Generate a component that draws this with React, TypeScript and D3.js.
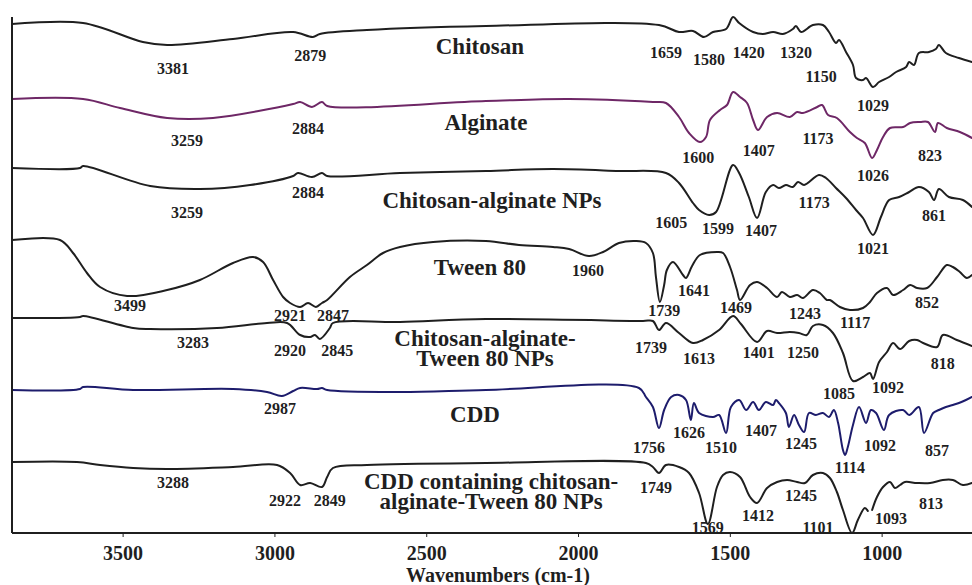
import React from 'react';
import * as d3 from 'd3';

const WIDTH = 972;
const HEIGHT = 585;

// Spectra: [wavenumber (cm-1), transmittance relative to the trace's stack offset (a.u.)]
const chitosan: [number, number][] = [
  [3866, 0], [3632, 1], [3435, -18], [3355, -21], [3138, -15], [2940, -8], [2875, -13], [2852, -10],
  [2697, -6], [2305, -2], [1735, -1], [1669, -8], [1623, -7], [1587, -13], [1557, -8], [1514, -5],
  [1491, 7], [1471, 1], [1425, -8], [1393, -10], [1359, -8], [1327, -10], [1294, -5], [1284, -2],
  [1267, -8], [1228, -1], [1195, -1], [1175, -8], [1152, -19], [1142, -16], [1119, -28], [1096, -41],
  [1086, -54], [1063, -56], [1053, -54], [1030, -63], [1010, -58], [977, -53], [954, -48], [921, -43],
  [911, -38], [895, -41], [879, -29], [846, -28], [823, -25], [813, -21], [790, -29], [747, -34], [704, -38],
];

const alginate: [number, number][] = [
  [3866, 0], [3632, 0], [3510, -9], [3355, -19], [3204, -19], [2940, -5], [2917, -3], [2878, -8],
  [2845, -3], [2828, -7], [2305, -2], [2031, 0], [1755, -3], [1712, -4], [1669, -18], [1636, -34],
  [1600, -43], [1580, -38], [1567, -21], [1534, -11], [1511, -6], [1491, 7], [1468, 2], [1445, -4],
  [1425, -21], [1409, -31], [1379, -18], [1346, -14], [1304, -18], [1280, -13], [1261, -14], [1214, -8],
  [1198, -6], [1178, -16], [1149, -19], [1106, -33], [1083, -39], [1057, -44], [1033, -59], [1017, -51],
  [997, -38], [974, -29], [931, -28], [908, -24], [875, -23], [849, -23], [826, -33], [816, -24],
  [787, -29], [744, -33], [704, -39],
];

const chitosanAlginateNPs: [number, number][] = [
  [3866, 0], [3642, 0], [3632, 2], [3411, -18], [3247, -21], [3082, -17], [2940, -8], [2924, -5],
  [2878, -9], [2845, -5], [2828, -8], [2588, -5], [2305, -3], [2084, -1], [1867, -3], [1712, -5],
  [1669, -15], [1623, -35], [1603, -42], [1570, -47], [1547, -44], [1491, 3], [1471, -5], [1439, -29],
  [1412, -50], [1383, -24], [1359, -17], [1340, -20], [1317, -17], [1294, -19], [1277, -14], [1257, -17],
  [1208, -7], [1185, -10], [1152, -20], [1119, -30], [1086, -42], [1063, -50], [1030, -67], [1004, -49],
  [977, -32], [944, -29], [911, -24], [879, -19], [846, -24], [829, -32], [813, -21], [780, -29],
  [734, -32], [704, -39],
];

const tween80: [number, number][] = [
  [3866, 0], [3708, 0], [3665, -13], [3619, -33], [3576, -47], [3487, -56], [3355, -50], [3247, -40],
  [3138, -23], [3072, -17], [3039, -22], [3006, -40], [2973, -57], [2950, -63], [2917, -67], [2891, -63],
  [2865, -67], [2845, -63], [2828, -60], [2753, -37], [2697, -25], [2644, -13], [2588, -7], [2479, -2],
  [2305, -1], [2196, -5], [2084, -7], [2031, -9], [1966, -16], [1919, -12], [1867, -3], [1811, -1],
  [1778, -3], [1755, -13], [1745, -37], [1732, -62], [1718, -45], [1709, -30], [1689, -22], [1656, -35],
  [1646, -38], [1626, -26], [1600, -15], [1544, -12], [1524, -13], [1501, -27], [1478, -50], [1468, -60],
  [1435, -45], [1412, -42], [1379, -48], [1346, -57], [1330, -52], [1304, -57], [1280, -55], [1261, -58],
  [1228, -50], [1205, -53], [1182, -60], [1172, -60], [1139, -67], [1106, -70], [1063, -68], [1040, -62],
  [1017, -53], [984, -48], [964, -55], [931, -50], [908, -45], [885, -48], [852, -48], [819, -37],
  [787, -25], [767, -27], [744, -32], [721, -38], [704, -35],
];

const chitosanAlginateTweenNPs: [number, number][] = [
  [3866, 0], [3642, 1], [3632, 2], [3467, -10], [3411, -11], [3191, -10], [3026, -5], [2960, -5],
  [2917, -17], [2884, -19], [2868, -17], [2852, -21], [2819, -10], [2809, -5], [2588, -4], [2305, -1],
  [1788, -3], [1755, -3], [1735, -12], [1712, -5], [1669, -15], [1623, -25], [1590, -22], [1537, -12],
  [1491, 2], [1465, -6], [1412, -24], [1379, -13], [1346, -15], [1304, -14], [1274, -15], [1248, -17],
  [1228, -8], [1195, -7], [1162, -15], [1129, -35], [1096, -63], [1063, -59], [1040, -55], [1030, -61],
  [1010, -44], [984, -34], [964, -25], [941, -31], [911, -23], [885, -22], [865, -25], [819, -29],
  [800, -17], [754, -22], [704, -28],
];

const cdd: [number, number][] = [
  [3866, 0], [3642, 1], [3632, 3], [3467, 0], [3138, 1], [3026, -2], [2977, -6], [2940, -1],
  [2917, 2], [2861, 1], [2845, 2], [2828, 0], [2588, -2], [2305, 0], [1801, 2], [1778, -7],
  [1755, -17], [1735, -38], [1718, -20], [1695, -7], [1669, -5], [1646, -10], [1630, -30], [1620, -13],
  [1603, -23], [1557, -27], [1537, -25], [1514, -43], [1498, -17], [1471, -10], [1448, -20], [1425, -12],
  [1406, -20], [1383, -12], [1359, -15], [1350, -10], [1340, -13], [1317, -23], [1307, -37], [1290, -25],
  [1274, -35], [1257, -42], [1241, -23], [1218, -25], [1195, -23], [1175, -27], [1159, -20], [1145, -33],
  [1139, -43], [1129, -60], [1122, -65], [1113, -57], [1096, -35], [1076, -17], [1053, -33], [1037, -20],
  [1020, -23], [994, -40], [977, -25], [931, -20], [911, -25], [879, -17], [862, -43], [832, -23],
  [813, -20], [790, -17], [767, -15], [747, -13], [724, -10], [704, -7],
];

// NaN marks the short break in the trace near 1093 cm-1
const cddNPs: [number, number][] = [
  [3866, 0], [3652, 0], [3576, -3], [3467, -6], [3355, -7], [3138, -5], [2993, -3], [2950, -11],
  [2917, -23], [2884, -21], [2845, -25], [2828, -15], [2809, -6], [2697, -3], [2305, -1], [1778, -1],
  [1755, -5], [1735, -11], [1712, -3], [1669, -5], [1636, -11], [1603, -31], [1574, -62], [1544, -25],
  [1524, -13], [1501, -10], [1468, -15], [1435, -35], [1412, -41], [1379, -26], [1346, -20], [1313, -18],
  [1280, -20], [1254, -21], [1228, -13], [1195, -11], [1172, -16], [1149, -30], [1129, -48], [1099, -71],
  [1080, -58], [1057, -46], [1047, -49], [1040, NaN], [1033, -48], [1017, -35], [997, -25], [974, -20],
  [958, -26], [941, -23], [925, -20], [885, -21], [842, -21], [800, -18], [767, -18], [734, -23], [704, -21],
];

// Stack offsets of the seven traces (a.u.)
const stackOffsets = [509, 434, 365, 293, 215, 143, 71];

// Sample names: lines of text, anchor [wavenumber, level a.u.]
const sampleNames: { lines: string[]; at: [number, number] }[] = [
  { lines: ['Chitosan'], at: [2325, 479] },
  { lines: ['Alginate'], at: [2305, 403] },
  { lines: ['Chitosan-alginate NPs'], at: [2285, 325] },
  { lines: ['Tween 80'], at: [2325, 258] },
  { lines: ['Chitosan-alginate-', 'Tween 80 NPs'], at: [2308, 187] },
  { lines: ['CDD'], at: [2341, 111] },
  { lines: ['CDD containing chitosan-', 'alginate-Tween 80 NPs'], at: [2288, 44] },
];

// Band assignments: [label, wavenumber position, level a.u.]
const chitosanBands: [string, number, number][] = [
  ['3381', 3336, 465], ['2879', 2884, 478], ['1659', 1712, 481], ['1580', 1570, 474],
  ['1420', 1439, 481], ['1320', 1284, 481], ['1150', 1201, 457], ['1029', 1030, 428],
];
const alginateBands: [string, number, number][] = [
  ['3259', 3290, 393], ['2884', 2891, 405], ['1600', 1606, 376], ['1407', 1406, 383],
  ['1173', 1211, 395], ['1026', 1030, 358], ['823', 842, 378],
];
const chitosanAlginateBands: [string, number, number][] = [
  ['3259', 3290, 321], ['2884', 2891, 341], ['1605', 1695, 311], ['1599', 1541, 305],
  ['1407', 1399, 303], ['1173', 1224, 331], ['1021', 1030, 285], ['861', 829, 318],
];
const tweenBands: [string, number, number][] = [
  ['3499', 3477, 228], ['2921', 2950, 218], ['2847', 2809, 218], ['1960', 1969, 263],
  ['1739', 1718, 223], ['1641', 1620, 243], ['1469', 1481, 226], ['1243', 1254, 220],
  ['1117', 1089, 211], ['852', 852, 231],
];
const chitosanAlginateTweenBands: [string, number, number][] = [
  ['3283', 3270, 191], ['2920', 2950, 183], ['2845', 2795, 183], ['1739', 1761, 186],
  ['1613', 1603, 175], ['1401', 1406, 181], ['1250', 1261, 181], ['1085', 1142, 140],
  ['1092', 981, 146], ['818', 800, 170],
];
const cddBands: [string, number, number][] = [
  ['2987', 2983, 125], ['1756', 1768, 86], ['1626', 1636, 101], ['1510', 1531, 86],
  ['1407', 1399, 103], ['1245', 1267, 90], ['1114', 1106, 66], ['1092', 1007, 88], ['857', 819, 83],
];
const cddNPsBands: [string, number, number][] = [
  ['3288', 3336, 51], ['2922', 2967, 33], ['2849', 2819, 33], ['1749', 1745, 46],
  ['1569', 1574, 6], ['1412', 1409, 18], ['1245', 1267, 38], ['1101', 1211, 6],
  ['1093', 971, 15], ['813', 839, 30],
];

const xTicks = [3500, 3000, 2500, 2000, 1500, 1000];

const INK = '#1f1f1f';
const ALGINATE = '#6e2766';
const CDD_BLUE = '#1d1c6c';

const traces = [
  { id: 'chitosan', points: chitosan, color: INK, bands: chitosanBands },
  { id: 'alginate', points: alginate, color: ALGINATE, bands: alginateBands },
  { id: 'ca-nps', points: chitosanAlginateNPs, color: INK, bands: chitosanAlginateBands },
  { id: 'tween80', points: tween80, color: INK, bands: tweenBands },
  { id: 'cat-nps', points: chitosanAlginateTweenNPs, color: INK, bands: chitosanAlginateTweenBands },
  { id: 'cdd', points: cdd, color: CDD_BLUE, bands: cddBands },
  { id: 'cdd-nps', points: cddNPs, color: INK, bands: cddNPsBands },
];

const FONT = '"Liberation Serif", "Times New Roman", Times, serif';

export default function App() {
  const left = 12;
  const right = 972;
  const bottom = 533;
  const top = 15;

  const x = d3.scaleLinear().domain([3866, 704]).range([left, right]);
  const y = d3.scaleLinear().domain([0, 518]).range([bottom, top]);

  return (
    <svg
      width={WIDTH}
      height={HEIGHT}
      viewBox={`0 0 ${WIDTH} ${HEIGHT}`}
      style={{ position: 'absolute', left: 0, top: 0, background: '#fff' }}
    >
      <defs>
        <clipPath id="plot-clip">
          <rect x={left} y={0} width={right - left} height={bottom + 2} />
        </clipPath>
      </defs>
      <rect width={WIDTH} height={HEIGHT} fill="#fff" />

      <g clipPath="url(#plot-clip)">
        {traces.map((t, i) => {
          const off = stackOffsets[i];
          const line = d3
            .line<[number, number]>()
            .defined((d) => !Number.isNaN(d[1]))
            .x((d) => x(d[0]))
            .y((d) => y(d[1] + off))
            .curve(d3.curveCatmullRom.alpha(0.5));
          return (
            <path
              key={t.id}
              d={line(t.points) ?? ''}
              fill="none"
              stroke={t.color}
              strokeWidth={2}
              strokeLinejoin="round"
              strokeLinecap="round"
            />
          );
        })}
      </g>

      {/* sample names */}
      <g fontFamily={FONT} fontWeight="bold" fontSize={23} fill={INK} textAnchor="middle">
        {sampleNames.map((s, i) => (
          <text key={i} x={x(s.at[0])} y={y(s.at[1])}>
            {s.lines.map((ln, j) => (
              <tspan key={j} x={x(s.at[0])} dy={j === 0 ? 0 : 20}>
                {ln}
              </tspan>
            ))}
          </text>
        ))}
      </g>

      {/* band labels */}
      <g fontFamily={FONT} fontWeight="bold" fontSize={16} fill={INK} textAnchor="middle">
        {traces.map((t) =>
          t.bands.map(([label, wn, lvl], k) => (
            <text key={`${t.id}-${k}`} x={x(wn)} y={y(lvl) + 5.5}>
              {label}
            </text>
          ))
        )}
      </g>

      {/* axes */}
      <line x1={left} x2={left} y1={17} y2={bottom} stroke={INK} strokeWidth={2} />
      <line x1={left} x2={right} y1={bottom} y2={bottom} stroke={INK} strokeWidth={2} />
      <g fontFamily={FONT} fontWeight="bold" fontSize={20} fill={INK} textAnchor="middle">
        {xTicks.map((t) => (
          <g key={t}>
            <line x1={x(t)} x2={x(t)} y1={bottom} y2={bottom + 4} stroke={INK} strokeWidth={1} />
            <text x={x(t)} y={560}>
              {t}
            </text>
          </g>
        ))}
        <text x={498} y={582}>
          Wavenumbers (cm-1)
        </text>
      </g>
    </svg>
  );
}
